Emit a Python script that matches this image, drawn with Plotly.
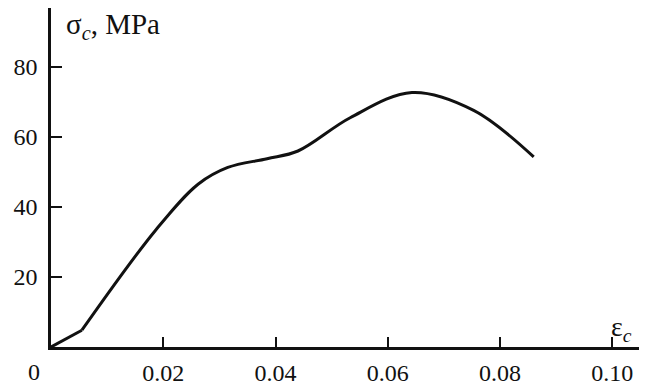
import plotly.graph_objects as go

# Data
strain = [0.0, 0.0055, 0.0186, 0.0262, 0.0315, 0.0385, 0.0440,
          0.0533, 0.0643, 0.0753, 0.0860]
stress = [0.0, 4.8, 33.3, 46.5, 51.3, 53.8, 56.0,
          65.5, 72.7, 67.6, 54.3]

x_tickvals = [0.02, 0.04, 0.06, 0.08, 0.10]
x_ticktext = ["0.02", "0.04", "0.06", "0.08", "0.10"]
y_tickvals = [20, 40, 60, 80]
y_ticktext = ["20", "40", "60", "80"]

FONT = "Liberation Serif"
PAGE_OFF = 8          # default body margin of the html page
W, H = 647 - PAGE_OFF, 385 - PAGE_OFF
ML, MR, MT, MB = 51 - PAGE_OFF, 0, 0, 38
px_per_x = 5613.0
px_per_y = 3.5
pw, ph = W - ML - MR, H - MT - MB
x_max = pw / px_per_x
y_max = ph / px_per_y


def paper_x(page_px):
    return (page_px - PAGE_OFF - ML) / pw


def paper_y(page_py):
    return (H - (page_py - PAGE_OFF) - MB) / ph


fig = go.Figure()
# initial straight segment
fig.add_trace(go.Scatter(x=strain[:2], y=stress[:2], mode="lines",
                         line=dict(color="#111", width=3), hoverinfo="skip"))
# smooth remainder
fig.add_trace(go.Scatter(x=strain[1:], y=stress[1:], mode="lines",
                         line=dict(color="#111", width=3, shape="spline", smoothing=1.0),
                         hoverinfo="skip"))

fig.update_layout(
    width=W, height=H,
    margin=dict(l=ML, r=MR, t=MT, b=MB, pad=0),
    paper_bgcolor="white", plot_bgcolor="white",
    showlegend=False,
    font=dict(family=FONT, size=24, color="#111"),
    xaxis=dict(range=[0, x_max], showgrid=False, zeroline=False,
               showline=True, linecolor="#111", linewidth=2.5,
               ticks="inside", ticklen=10, tickwidth=1.5, tickcolor="#111",
               tickvals=x_tickvals, ticktext=x_ticktext,
               ticklabelstandoff=2, tickfont=dict(family=FONT, size=24)),
    yaxis=dict(range=[0, y_max], showgrid=False, zeroline=False,
               showline=True, linecolor="#111", linewidth=2.5,
               ticks="inside", ticklen=11, tickwidth=1.5, tickcolor="#111",
               tickvals=y_tickvals, ticktext=y_ticktext,
               ticklabelstandoff=6, tickfont=dict(family=FONT, size=24)),
)

fig.add_annotation(x=paper_x(34), y=paper_y(372), xref="paper", yref="paper", text="0",
                   showarrow=False, xanchor="center", yanchor="middle",
                   font=dict(family=FONT, size=24, color="#111"))
fig.add_annotation(x=paper_x(64), y=paper_y(26), xref="paper", yref="paper",
                   text="σ<sub><i>c</i></sub>, MPa",
                   showarrow=False, xanchor="left", yanchor="middle",
                   font=dict(family=FONT, size=29, color="#111"))
fig.add_annotation(x=paper_x(609), y=paper_y(328), xref="paper", yref="paper",
                   text="ε<sub><i>c</i></sub>",
                   showarrow=False, xanchor="left", yanchor="middle",
                   font=dict(family=FONT, size=28, color="#111"))

fig.write_html("out.html")
